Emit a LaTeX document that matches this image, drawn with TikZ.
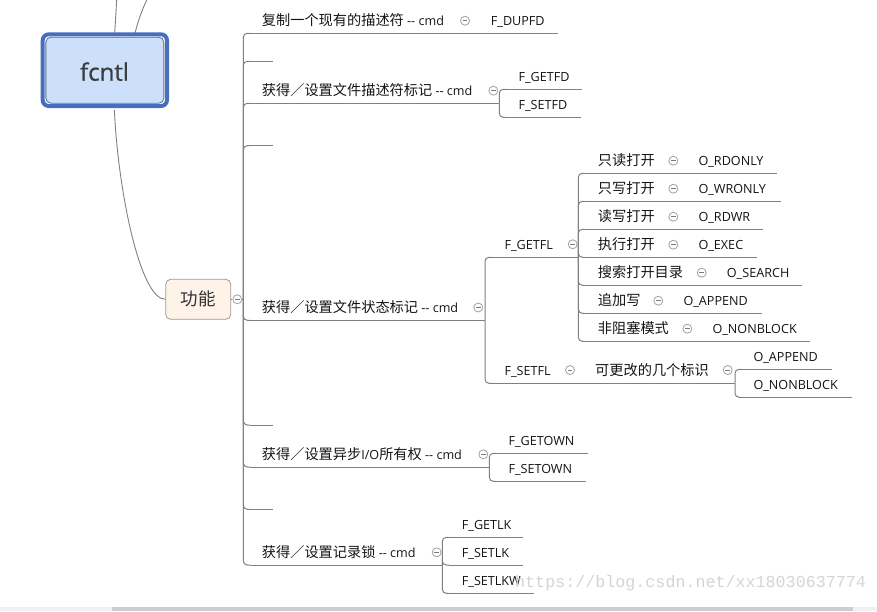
\documentclass[tikz,border=0pt]{standalone}
\usepackage{fontspec}
\setmainfont{Open Sans}
\newfontfamily\cjk{Noto Sans CJK SC}
\newfontfamily\wmfont{Liberation Mono}
\newfontfamily\fcfont{Open Sans}[FakeBold=0.8]
\definecolor{lg}{RGB}{128,128,128}
\definecolor{tgray}{RGB}{160,160,165}
\definecolor{tminus}{RGB}{120,120,130}
\definecolor{txtc}{RGB}{20,20,20}
\definecolor{frameblue}{RGB}{72,110,190}
\definecolor{innerblue}{RGB}{204,224,252}
\definecolor{innerline}{RGB}{90,105,140}
\definecolor{peach}{RGB}{253,243,233}
\definecolor{peachline}{RGB}{165,150,135}
\definecolor{wmc}{RGB}{212,212,212}
\definecolor{sbl}{RGB}{240,240,240}
\definecolor{sbd}{RGB}{205,205,205}
\newcommand\zh[1]{{\cjk\fontsize{14.2}{16}\selectfont #1}}
\newcommand\mkul[4]{%
  \coordinate (#1-l) at ({#2},{#4});
  \coordinate (#1-r) at ({#3},{#4});
  \draw[ln] (#1-l) -- (#1-r);}
\newcommand\mktog[3]{\node[togs] (#1) at ({#2},{#3}) {};}
\newcommand\mkrow[7]{%
  \node[txt] (#1) at (597.7,{#2+5}) {\zh{#4}};
  \mktog{#1t}{#5}{#2}
  \node[txt] (#1c) at ({#5+25},{#2+5}) {#6};
  \mkul{#1}{585}{#5+6}{#3}
  \mkul{#1c}{#5+6}{#7}{#3}
  \draw[conn] (C1-r) |- (#1-l);}
\begin{document}
\begin{tikzpicture}[x=1pt,y=-1pt,
  ln/.style={draw=lg,line width=1pt},
  conn/.style={draw=lg,line width=1pt,rounded corners=4pt},
  txt/.style={anchor=base west,inner sep=0pt,text=txtc,font=\fontsize{12.6}{15}\selectfont},
  togs/.style={circle,draw=tgray,fill=white,minimum size=9pt,inner sep=0pt,line width=0.8pt,
    path picture={\draw[line width=0.9pt,tminus] ([xshift=-2.3pt]path picture bounding box.center) -- ([xshift=2.3pt]path picture bounding box.center);}},
]
\useasboundingbox (0,0) rectangle (877,611);
% scrollbar
\fill[sbl] (0,607) rectangle (877,611);
\fill[sbd] (112,607) rectangle (852.7,611);
% central topic
\coordinate (up1) at (116.7,0);
\coordinate (up2) at (146.7,0);
\draw[lg,line width=0.9pt] (114.3,40) .. controls (114.8,20) .. (up1);
\draw[lg,line width=0.9pt] (133.3,40) .. controls (137.5,22) and (142,10) .. (up2);
\node[draw=frameblue,line width=4pt,rounded corners=6pt,minimum width=124.3pt,minimum height=71.7pt,fill=white] (fcntlframe) at (104.85,70.15) {};
\node[draw=innerline,line width=0.8pt,rounded corners=5pt,fill=innerblue,minimum width=118pt,minimum height=66pt] (fcntl) at (104.85,70.15) {};
\node[anchor=base,inner sep=0pt,text={rgb,255:red,60;green,60;blue,60},font=\fcfont\fontsize{24}{28}\selectfont] (fcntltxt) at (104.5,80.7) {fcntl};
% 功能
\node[draw=peachline,fill=peach,rounded corners=5pt,line width=0.8pt,minimum width=65pt,minimum height=40pt,inner sep=0pt] (fn) at (198.2,299.3) {};
\node[inner sep=0pt,text={rgb,255:red,50;green,50;blue,50}] (fntxt) at (198.2,299.3) {\cjk\fontsize{17.5}{20}\selectfont 功能};
\draw[lg,line width=0.9pt] ([yshift=-2pt]fcntlframe.south) ++(9.5,0) .. controls (118,190) and (140,299.3) .. (fn.west);
\mktog{t0}{237.3}{299.3}
\coordinate (h0) at (243.3,299.3);
\draw[ln] (fn.east) -- (t0.west);
\draw[ln] (t0.east) -- (h0);
% A
\node[txt] (A) at (261.7,25.7) {\zh{复制一个现有的描述符} -{}- cmd};
\mktog{At}{465}{20.7}
\node[txt] (A1) at (490.7,25.7) {F\_DUPFD};
\mkul{A}{250}{471}{33.3}
\mkul{A1}{471}{558}{33.3}
\draw[conn] (h0) |- (A-l);
% E1
\mkul{E1}{250}{273.3}{61.3}
\draw[conn] (h0) |- (E1-l);
% B
\node[txt] (B) at (261.7,95.7) {\zh{获得／设置文件描述符标记} -{}- cmd};
\mktog{Bt}{493.3}{90.7}
\mkul{B}{250}{499.3}{103.3}
\draw[conn] (h0) |- (B-l);
\node[txt] (B1) at (518.3,81.7) {F\_GETFD};
\mkul{B1}{506}{582}{89.3}
\draw[conn] (B-r) |- (B1-l);
\node[txt] (B2) at (518.3,109.3) {F\_SETFD};
\mkul{B2}{506}{581}{117.3}
\draw[conn] (B-r) |- (B2-l);
% E2
\mkul{E2}{250}{273.3}{145.7}
\draw[conn] (h0) |- (E2-l);
% C
\node[txt] (C) at (261.7,312.3) {\zh{获得／设置文件状态标记} -{}- cmd};
\mktog{Ct}{478.3}{307.5}
\mkul{C}{250}{485}{320.3}
\draw[conn] (h0) |- (C-l);
\node[txt] (C1) at (504.3,249.3) {F\_GETFL};
\mktog{C1t}{572.7}{244.3}
\mkul{C1}{491}{578.3}{257.3}
\draw[conn] (C-r) |- (C1-l);
\mkrow{R1}{160.7}{173.3}{只读打开}{673.3}{O\_RDONLY}{777.3}
\mkrow{R2}{188.7}{201.3}{只写打开}{673.3}{O\_WRONLY}{780.7}
\mkrow{R3}{216.7}{229.3}{读写打开}{673.3}{O\_RDWR}{763.3}
\mkrow{R4}{244.7}{257.3}{执行打开}{673.3}{O\_EXEC}{756.7}
\mkrow{R5}{272.7}{285.3}{搜索打开目录}{701.7}{O\_SEARCH}{801.7}
\mkrow{R6}{300.7}{313.3}{追加写}{658.3}{O\_APPEND}{761.7}
\mkrow{R7}{328.7}{341.3}{非阻塞模式}{687.3}{O\_NONBLOCK}{810}
\node[txt] (C2) at (504.3,375) {F\_SETFL};
\mktog{C2t}{570}{370}
\mkul{C2}{491}{576}{383.3}
\draw[conn] (C-r) |- (C2-l);
\node[txt] (C2a) at (595,375) {\zh{可更改的几个标识}};
\mktog{C2at}{727.7}{370}
\mkul{C2a}{576}{735}{383.3}
\node[txt] (C2a1) at (753.3,361.7) {O\_APPEND};
\mkul{C2a1}{741}{831.7}{369.3}
\draw[conn] (C2a-r) |- (C2a1-l);
\node[txt] (C2a2) at (753.3,389.3) {O\_NONBLOCK};
\mkul{C2a2}{741}{851.7}{397.3}
\draw[conn] (C2a-r) |- (C2a2-l);
% E3
\mkul{E3}{250}{273.3}{425}
\draw[conn] (h0) |- (E3-l);
% D
\node[txt] (D) at (261.7,459.3) {\zh{获得／设置异步}I/O\zh{所有权} -{}- cmd};
\mktog{Dt}{483.3}{454.3}
\mkul{D}{250}{489.3}{467}
\draw[conn] (h0) |- (D-l);
\node[txt] (D1) at (508.3,445.7) {F\_GETOWN};
\mkul{D1}{496}{587.7}{453.3}
\draw[conn] (D-r) |- (D1-l);
\node[txt] (D2) at (508.3,473.3) {F\_SETOWN};
\mkul{D2}{496}{586}{481.3}
\draw[conn] (D-r) |- (D2-l);
% E4
\mkul{E4}{250}{273.3}{509.3}
\draw[conn] (h0) |- (E4-l);
% F
\node[txt] (F) at (261.7,557.3) {\zh{获得／设置记录锁} -{}- cmd};
\mktog{Ft}{436.7}{552.3}
\mkul{F}{250}{442.3}{565}
\draw[conn] (h0) |- (F-l);
\node[txt] (F1) at (461.7,529.3) {F\_GETLK};
\mkul{F1}{449}{523.3}{537.3}
\draw[conn] (F-r) |- (F1-l);
\node[txt] (F2) at (461.7,557.3) {F\_SETLK};
\mkul{F2}{449}{522.7}{565}
\draw[conn] (F-r) |- (F2-l);
\node[txt] (F3) at (461.7,585) {F\_SETLKW};
\mkul{F3}{449}{534}{593.3}
\draw[conn] (F-r) |- (F3-l);
% watermark
\node[anchor=west,inner sep=0pt,text=wmc,font=\wmfont\fontsize{16.7}{18}\selectfont] (wm) at (515,583.3) {https://blog.csdn.net/xx18030637774};
\end{tikzpicture}
\end{document}
